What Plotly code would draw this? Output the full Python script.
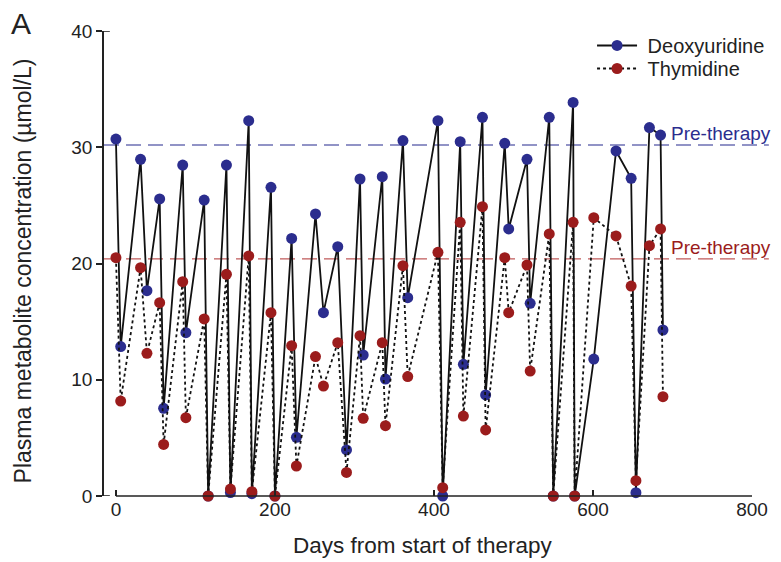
import plotly.graph_objects as go

days = [0, 6, 31, 39, 55, 60, 84, 88, 111, 116, 139, 144, 167, 171, 195, 200, 221, 227, 251, 261,
        279, 290, 307, 311, 335, 339, 361, 367, 405, 411, 433, 437, 461, 465, 489, 494, 517, 521, 545, 550,
        575, 577, 601, 629, 648, 654, 671, 685, 688]
deoxyuridine = [30.7, 12.85, 28.96, 17.66, 25.55, 7.54, 28.47, 14.05, 25.46, 0, 28.47, 0.3, 32.29, 0.2, 26.55, 0,
                22.16, 5.05, 24.26, 15.77, 21.45, 3.96, 27.27, 12.13, 27.47, 10.06, 30.57, 17.06, 32.29, 0,
                30.48, 11.33, 32.57, 8.69, 30.34, 22.97, 28.96, 16.57, 32.57, 0, 33.86, 0, 11.78, 29.68,
                27.33, 0.29, 31.69, 31.05, 14.28]
thymidine = [20.5, 8.17, 19.64, 12.27, 16.63, 4.44, 18.44, 6.74, 15.23, 0, 19.07, 0.6, 20.65, 0.37, 15.77, 0,
             12.93, 2.58, 11.99, 9.46, 13.19, 2.03, 13.79, 6.68, 13.19, 6.05, 19.81, 10.27, 20.96, 0.72,
             23.54, 6.88, 24.89, 5.68, 20.5, 15.77, 19.87, 10.75, 22.54, 0, 23.54, 0, 23.94, 22.37,
             18.06, 1.32, 21.53, 22.97, 8.54]
pre_deoxyuridine = 30.2
pre_thymidine = 20.4
x_ticks = [0, 200, 400, 600, 800]
y_ticks = [0, 10, 20, 30, 40]

BLUE = "#2b2d8e"
RED = "#9b1c1c"
FONT = "Liberation Sans, Arial, sans-serif"
TXT = "#222222"
AX = "#222222"
NB = "\u00a0"

fig = go.Figure()
fig.add_trace(go.Scatter(
    x=days, y=deoxyuridine, mode="lines+markers", name=NB + "Deoxyuridine", legend="legend",
    line=dict(color="#111111", width=1.8),
    marker=dict(color=BLUE, size=11), cliponaxis=False))
fig.add_trace(go.Scatter(
    x=days, y=thymidine, mode="lines+markers", name=NB + "Thymidine", legend="legend2",
    line=dict(color="#111111", width=1.8, dash="dot"),
    marker=dict(color=RED, size=11), cliponaxis=False))

# baseline dashed lines
fig.add_shape(type="line", xref="paper", yref="y", x0=0, x1=1.026,
              y0=pre_deoxyuridine, y1=pre_deoxyuridine,
              line=dict(color="#6e70b4", width=1.4, dash="15px,7px"), layer="below")
fig.add_shape(type="line", xref="paper", yref="y", x0=0, x1=1.026,
              y0=pre_thymidine, y1=pre_thymidine,
              line=dict(color="#c05a5a", width=1.4, dash="15px,7px"), layer="below")
# x axis line from 0 to 800
fig.add_shape(type="line", xref="x", yref="paper", x0=0, x1=800, y0=0, y1=0,
              line=dict(color=AX, width=1.6))
# y axis end caps
for yv in (0, 40):
    fig.add_shape(type="line", xref="paper", yref="y", x0=0, x1=0.009, y0=yv, y1=yv,
                  line=dict(color=AX, width=1.6))

fig.add_annotation(x=695, y=pre_deoxyuridine + 1.0, xref="x", yref="y", text="Pre-therapy",
                   showarrow=False, xanchor="left", yanchor="middle",
                   font=dict(family=FONT, size=19, color=BLUE))
fig.add_annotation(x=695, y=pre_thymidine + 1.0, xref="x", yref="y", text="Pre-therapy",
                   showarrow=False, xanchor="left", yanchor="middle",
                   font=dict(family=FONT, size=19, color=RED))
fig.add_annotation(x=-0.146, y=1.055, xref="paper", yref="paper", text="A",
                   showarrow=False, xanchor="left", yanchor="top",
                   font=dict(family=FONT, size=30, color=TXT))
fig.add_annotation(x=-0.125, y=0.483, xref="paper", yref="paper",
                   text="Plasma metabolite concentration (µmol/L)", textangle=-90,
                   showarrow=False, xanchor="center", yanchor="middle",
                   font=dict(family=FONT, size=23, color=TXT))
fig.add_annotation(x=0.492, y=-0.1075, xref="paper", yref="paper",
                   text="Days from start of therapy",
                   showarrow=False, xanchor="center", yanchor="middle",
                   font=dict(family=FONT, size=22.5, color=TXT))

legend_common = dict(xanchor="left", yanchor="top", bgcolor="rgba(0,0,0,0)",
                     font=dict(family=FONT, size=20, color=TXT), itemwidth=40)

fig.update_layout(
    width=773, height=554,
    margin=dict(l=96, r=28, t=23, b=66),
    paper_bgcolor="white", plot_bgcolor="white",
    font=dict(family=FONT, size=19, color=TXT),
    showlegend=True,
    legend=dict(x=0.752, y=1.0108, **legend_common),
    legend2=dict(x=0.752, y=0.9613, **legend_common),
    xaxis=dict(range=[-15, 800], tickvals=x_ticks, ticks="inside", ticklen=6, tickwidth=1.6,
               tickcolor=AX, showgrid=False, zeroline=False, showline=False,
               tickfont=dict(family=FONT, size=19, color=TXT)),
    yaxis=dict(range=[0, 40], tickvals=y_ticks, ticks="outside", ticklen=6, tickwidth=1.6,
               tickcolor=AX, showgrid=False, zeroline=False, showline=True,
               linecolor=AX, linewidth=1.6,
               tickfont=dict(family=FONT, size=19, color=TXT)),
)

fig.write_html("out.html")
